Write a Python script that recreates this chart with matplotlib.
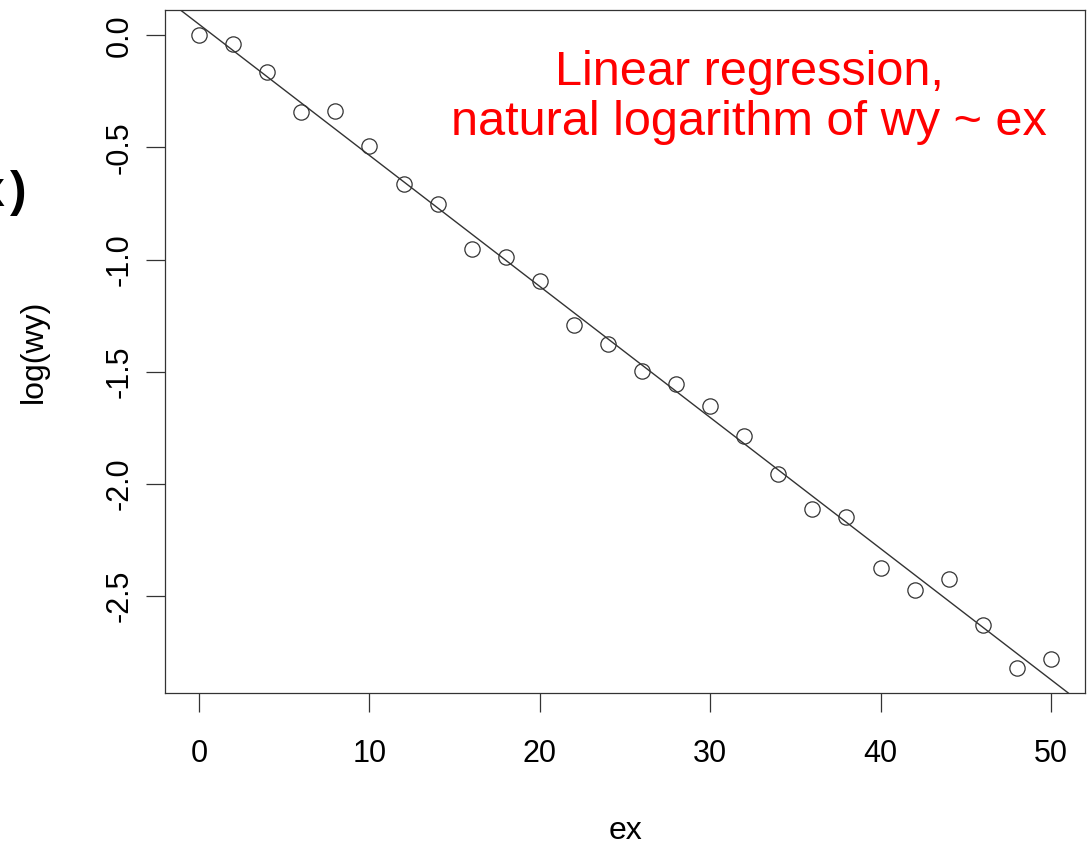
import numpy as np
import matplotlib
matplotlib.use('Agg')
import matplotlib.pyplot as plt

# values
ex = [0, 2, 4, 6, 8, 10, 12, 14, 16, 18, 20, 22, 24,
      26, 28, 30, 32, 34, 36, 38, 40, 42, 44, 46, 48, 50]
log_wy = [0.0, -0.04, -0.165, -0.343, -0.338, -0.494, -0.663, -0.752,
          -0.952, -0.988, -1.094, -1.294, -1.375, -1.499, -1.557, -1.655,
          -1.788, -1.957, -2.113, -2.149, -2.375, -2.473, -2.424, -2.629,
          -2.820, -2.780]
x_ticks = [0, 10, 20, 30, 40, 50]
y_ticks = [0.0, -0.5, -1.0, -1.5, -2.0, -2.5]
y_tick_labels = ['0.0', '-0.5', '-1.0', '-1.5', '-2.0', '-2.5']

plt.rcParams['font.family'] = ['Liberation Sans', 'DejaVu Sans']

fig = plt.figure(figsize=(10.9, 8.42), dpi=100)
ax = fig.add_axes([165/1090, 1 - 693/842, 920/1090, 683/842])

ink = '#333333'
ax.plot(ex, log_wy, linestyle='none', marker='o', markersize=11,
        markerfacecolor='none', markeredgecolor=ink, markeredgewidth=0.9)

# fitted line, like abline(lm(log(wy) ~ ex))
slope, intercept = np.polyfit(ex, log_wy, 1)
ax.axline((0, intercept), slope=slope, color=ink, linewidth=1.0)

# R-style 4% padding
xr = max(ex) - min(ex)
yr = max(log_wy) - min(log_wy)
ax.set_xlim(min(ex) - 0.04 * xr, max(ex) + 0.04 * xr)
ax.set_ylim(min(log_wy) - 0.04 * yr, max(log_wy) + 0.04 * yr)

ax.set_xticks(x_ticks)
ax.set_xticklabels([str(t) for t in x_ticks])
ax.set_yticks(y_ticks)
ax.set_yticklabels(y_tick_labels, rotation=90, va='center')
ax.tick_params(axis='x', direction='out', length=14, width=0.9, color=ink,
               labelsize=22, pad=19)
ax.tick_params(axis='y', direction='out', length=14, width=0.9, color=ink,
               labelsize=22, pad=8)
for sp in ax.spines.values():
    sp.set_color(ink)
    sp.set_linewidth(0.9)

ax.set_xlabel('ex', fontsize=23, labelpad=34)
ax.set_ylabel('log(wy)', fontsize=23, labelpad=40)

ax.text(0.635, 0.942, 'Linear regression,\nnatural logarithm of wy ~ ex',
        transform=ax.transAxes, color='red', fontsize=35, ha='center',
        va='top', linespacing=1.15)

# fragment of a neighbouring label, cut by the left edge
fig.text(4/1090, 1 - 193/842, 'x', fontsize=36, fontweight='bold',
         ha='right', va='center')
fig.text(10/1090, 1 - 193/842, ')', fontsize=36, fontweight='bold',
         ha='left', va='center')

fig.savefig('out.png', dpi=100)
